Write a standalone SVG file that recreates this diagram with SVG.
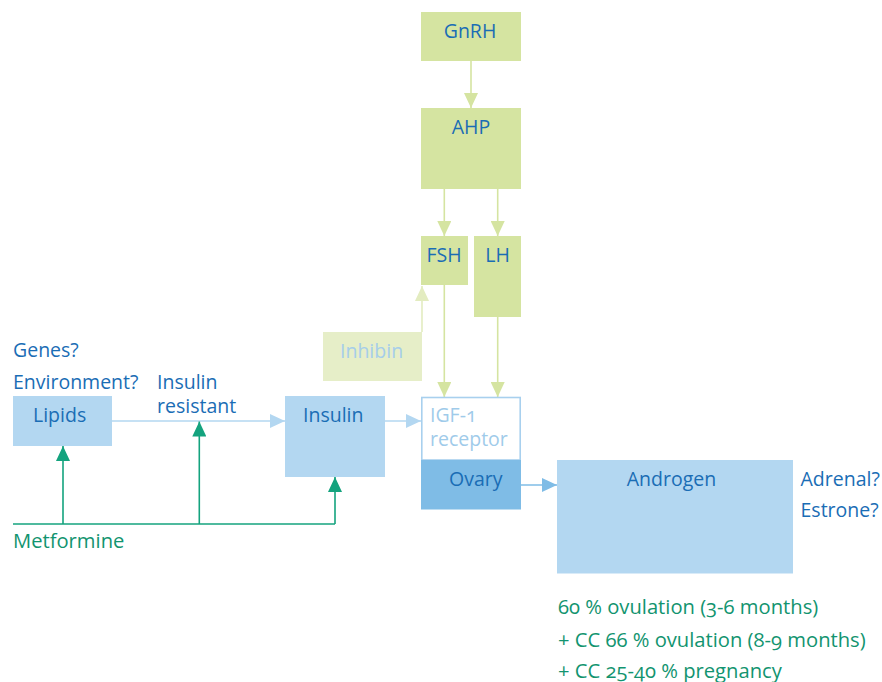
<svg xmlns="http://www.w3.org/2000/svg" width="882" height="682" viewBox="0 0 882 682">
<defs>
<style>
text{font-family:"Open Sans","Noto Sans","Liberation Sans",sans-serif;font-size:19.5px;font-weight:500;fill:#1a6db5;font-variant-numeric:oldstyle-nums}
.g{fill:#d5e4a1}
.b{fill:#b3d7f1}
.gt{fill:#12946f;font-size:20.2px}
.ln{fill:none;stroke-width:1.6}
</style>
<marker id="ag" markerUnits="userSpaceOnUse" markerWidth="15" markerHeight="14" refX="15" refY="7" orient="auto"><path d="M0,0L15,7L0,14z" fill="#d5e4a1"/></marker>
<marker id="ai" markerUnits="userSpaceOnUse" markerWidth="15" markerHeight="14" refX="15" refY="7" orient="auto"><path d="M0,0L15,7L0,14z" fill="#e3ecc0"/></marker>
<marker id="ab" markerUnits="userSpaceOnUse" markerWidth="15" markerHeight="14" refX="15" refY="7" orient="auto"><path d="M0,0L15,7L0,14z" fill="#b3d7f1"/></marker>
<marker id="ad" markerUnits="userSpaceOnUse" markerWidth="15" markerHeight="14" refX="15" refY="7" orient="auto"><path d="M0,0L15,7L0,14z" fill="#7fbce6"/></marker>
<marker id="am" markerUnits="userSpaceOnUse" markerWidth="15" markerHeight="14" refX="15" refY="7" orient="auto"><path d="M0,0L15,7L0,14z" fill="#14a37e"/></marker>
</defs>
<rect width="882" height="682" fill="#fff"/>
<g id="connectors" class="ln">
<path d="M471,61V108" stroke="#d5e4a1" marker-end="url(#ag)"/>
<path d="M444.3,189V236" stroke="#d5e4a1" marker-end="url(#ag)"/>
<path d="M497.7,189V236" stroke="#d5e4a1" marker-end="url(#ag)"/>
<path d="M444.3,285V397" stroke="#d5e4a1" marker-end="url(#ag)"/>
<path d="M497.7,317V397" stroke="#d5e4a1" marker-end="url(#ag)"/>
<path d="M422,332V286" stroke="#e3ecc0" marker-end="url(#ai)"/>
<path d="M112,421H285" stroke="#b3d7f1" marker-end="url(#ab)"/>
<path d="M385,421H421" stroke="#b3d7f1" marker-end="url(#ab)"/>
<path d="M521,485H557" stroke="#7fbce6" marker-end="url(#ad)"/>
<path d="M13,524H335" stroke="#14a37e"/>
<path d="M335,524V477" stroke="#14a37e" marker-end="url(#am)"/>
<path d="M63,524V446" stroke="#14a37e" marker-end="url(#am)"/>
<path d="M199.3,524V421.5" stroke="#14a37e" marker-end="url(#am)"/>
</g>
<g id="gnrh"><rect class="g" x="421" y="12" width="100" height="49"/><text x="470" y="38.3" text-anchor="middle">GnRH</text></g>
<g id="ahp"><rect class="g" x="421" y="108" width="100" height="81"/><text x="471" y="134.3" text-anchor="middle">AHP</text></g>
<g id="fsh"><rect class="g" x="421" y="236" width="47" height="49"/><text x="444" y="262.3" text-anchor="middle">FSH</text></g>
<g id="lh"><rect class="g" x="474" y="236" width="47" height="81"/><text x="497.5" y="262.3" text-anchor="middle">LH</text></g>
<g id="inhibin"><rect x="323" y="332" width="99" height="49" fill="#e6eec8"/><text x="340" y="357.7" style="fill:#a5cdea">Inhibin</text></g>
<g id="labels-left"><text x="13" y="356.7">Genes?</text><text x="13" y="389.3">Environment?</text></g>
<g id="insulin-resistant"><text x="157" y="389.3">Insulin</text><text x="157" y="413">resistant</text></g>
<g id="lipids"><rect class="b" x="13" y="396" width="99" height="50"/><text x="33" y="421.5">Lipids</text></g>
<g id="insulin"><rect class="b" x="285" y="396" width="100" height="81"/><text x="303" y="421.5">Insulin</text></g>
<g id="igf1"><rect x="421.8" y="397.5" width="98.4" height="62.5" fill="#fff" stroke="#a8d0ee" stroke-width="1.6"/><text x="430" y="421.7" style="fill:#9fcbea">IGF-1</text><text x="430" y="445.7" style="fill:#9fcbea">receptor</text></g>
<g id="ovary"><rect x="421" y="460" width="100" height="49.5" fill="#7fbce6"/><text x="449" y="486">Ovary</text></g>
<g id="androgen"><rect class="b" x="557" y="460" width="236" height="113.5"/><text x="671.5" y="486" text-anchor="middle">Androgen</text></g>
<g id="adrenal"><text x="800.5" y="486">Adrenal?</text><text x="800.5" y="517.3">Estrone?</text></g>
<g id="metformine"><text class="gt" x="13" y="548">Metformine</text></g>
<g id="outcomes"><text class="gt" x="558" y="614.3">60 % ovulation (3-6 months)</text><text class="gt" x="558" y="646.7">+ CC 66 % ovulation (8-9 months)</text><text class="gt" x="558" y="678">+ CC 25-40 % pregnancy</text></g>
</svg>
